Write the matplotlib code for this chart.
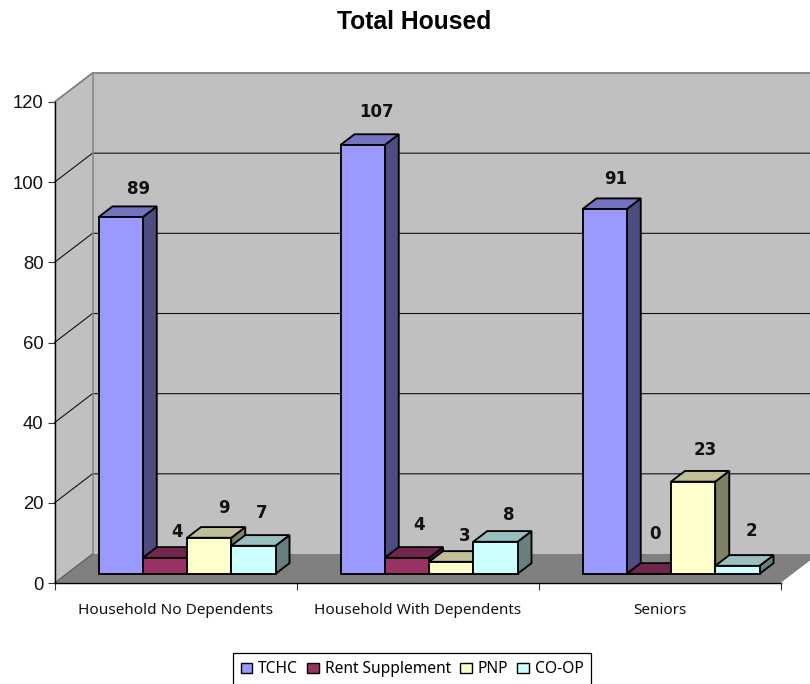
import matplotlib
matplotlib.use("Agg")
import matplotlib.pyplot as plt
from matplotlib.patches import Polygon, Patch, Rectangle
import numpy as np

categories = ["Household No Dependents", "Household With Dependents", "Seniors"]
series_names = ["TCHC", "Rent Supplement", "PNP", "CO-OP"]
tchc = [89, 107, 91]
rent_supplement = [4, 4, 0]
pnp = [9, 3, 23]
co_op = [7, 8, 2]
y_ticks = [0, 20, 40, 60, 80, 100, 120]
title = "Total Housed"

W, H = 810, 684
colors = ["#9999FF", "#993366", "#FFFFCC", "#CCFFFF"]
series = [tchc, rent_supplement, pnp, co_op]
# label offsets in pixels from the bar's front top centre (series x category)
label_nudges = [
    [(17.5, 28.3), (13.9, 33.1), (11.0, 30.3)],
    [(12.3, 26.3), (12.0, 33.0), (5.7, 40.0)],
    [(15.0, 29.9), (13.7, 26.3), (12.2, 31.8)],
    [(8.8, 33.0), (13.5, 27.0), (14.2, 35.0)],
]

plt.rcParams["font.family"] = ["Liberation Sans", "DejaVu Sans"]
fig = plt.figure(figsize=(W / 100, H / 100), dpi=100, facecolor="white")
ax = fig.add_axes([54.5 / W, (H - 583) / H, 726 / W, 481 / H], facecolor="none")
ax.set_xlim(0, len(categories))
ax.set_ylim(0, y_ticks[-1])

# oblique projection: depth 1 = back wall
px_x = 242 / 1.0
px_y = 481 / 120
wall_dx = 38.0 / px_x
wall_dy = 29.0 / px_y


def proj(x, v, depth=0.0):
    return (x + depth * wall_dx, v + depth * wall_dy)


top = y_ticks[-1]
n = len(categories)
wall = "#C0C0C0"
wall_edge = "#808080"
# walls and floor
ax.add_patch(Polygon([proj(0, 0, 1), proj(n, 0, 1), proj(n, top, 1), proj(0, top, 1)],
                     fc=wall, ec="none", clip_on=False, zorder=1))
ax.add_patch(Polygon([proj(0, 0, 0), proj(0, 0, 1), proj(0, top, 1), proj(0, top, 0)],
                     fc=wall, ec="none", clip_on=False, zorder=1))
ax.add_patch(Polygon([proj(0, 0, 0), proj(n, 0, 0), proj(n, 0, 1), proj(0, 0, 1)],
                     fc="#808080", ec="none", clip_on=False, zorder=1.5))
# gridlines
for t in y_ticks[1:-1]:
    pts = [proj(0, t, 0), proj(0, t, 1), proj(n, t, 1)]
    ax.plot(*zip(*pts), color="#111111", lw=0.8, clip_on=False, zorder=2)
# wall borders
pts = [proj(0, top, 0), proj(0, top, 1), proj(n, top, 1)]
ax.plot(*zip(*pts), color=wall_edge, lw=1.3, clip_on=False, zorder=2,
        solid_joinstyle="miter")
pts = [proj(0, 0, 1), proj(0, top, 1)]
ax.plot(*zip(*pts), color=wall_edge, lw=1.1, clip_on=False, zorder=2)
pts = [proj(0, 0, 0), proj(0, 0, 1)]
ax.plot(*zip(*pts), color="#555555", lw=0.8, clip_on=False, zorder=2)


def shade(c, f):
    r = matplotlib.colors.to_rgb(c)
    return tuple(a * f for a in r)


bar_w = 44.25 / px_x
gap = 32.0 / px_x
d0 = 12.0 / 38.0
d1 = d0 + 14.0 / 38.0
z = 3
for k in range(n):
    for j in range(len(series)):
        v = series[j][k]
        x0 = k + gap + j * bar_w
        x1 = x0 + bar_w
        kw = dict(ec="black", lw=1.35, clip_on=False, joinstyle="miter", zorder=z)
        ax.add_patch(Polygon([proj(x1, 0, d0), proj(x1, 0, d1), proj(x1, v, d1), proj(x1, v, d0)],
                             fc=shade(colors[j], 0.5), **kw))
        ax.add_patch(Polygon([proj(x0, v, d0), proj(x1, v, d0), proj(x1, v, d1), proj(x0, v, d1)],
                             fc=shade(colors[j], 0.75), **kw))
        ax.add_patch(Polygon([proj(x0, 0, d0), proj(x1, 0, d0), proj(x1, v, d0), proj(x0, v, d0)],
                             fc=colors[j], **kw))
        z += 0.1
        cx, cy = proj((x0 + x1) / 2, v, d0)
        ax.annotate(str(v), (cx, cy), xytext=label_nudges[j][k], textcoords="offset pixels",
                    ha="center", va="center", fontsize=12, fontweight="bold",
                    family="DejaVu Sans", color="#111111",
                    annotation_clip=False, zorder=20)

# axes furniture
for s in ("top", "right"):
    ax.spines[s].set_visible(False)
for s in ("left", "bottom"):
    ax.spines[s].set_color("black")
    ax.spines[s].set_linewidth(1.0)
    ax.spines[s].set_zorder(10)
ax.set_yticks(y_ticks)
ax.tick_params(axis="y", length=5, width=0.8, color="#333333", pad=2.8, labelsize=13.3,
               labelcolor="#111111")
ax.set_xticks(range(n + 1))
ax.set_xticklabels([])
ax.tick_params(axis="x", which="major", length=5, width=0.8, color="#333333")
ax.set_xticks(np.arange(n) + 0.5, minor=True)
ax.set_xticklabels(categories, minor=True, family="Noto Sans", fontsize=11,
                   color="#111111")
ax.tick_params(axis="x", which="minor", length=0, pad=14.5)

fig.text(414 / W, 1 - 22 / H, title, ha="center", va="center", fontsize=17.7,
         fontweight="bold", color="black")

# legend frame runs past the bottom edge of the figure
fig.add_artist(Rectangle((233.5 / W, 1 - 695 / H), (591 - 233.5) / W, (695 - 652.5) / H,
                         transform=fig.transFigure, fc="white", ec="black", lw=0.9))
handles = [Patch(fc=c, ec="black", lw=1.0) for c in colors]
leg = fig.legend(handles, series_names, ncol=4, loc="center", bbox_to_anchor=(412 / W, 1 - 669.3 / H),
                 prop={"family": "Noto Sans", "size": 11.2},
                 frameon=False, borderpad=0,
                 handlelength=0.75, handleheight=0.65, handletextpad=0.38, columnspacing=0.58,
                 borderaxespad=0)
leg.set_zorder(5)

fig.savefig("out.png", dpi=100)
